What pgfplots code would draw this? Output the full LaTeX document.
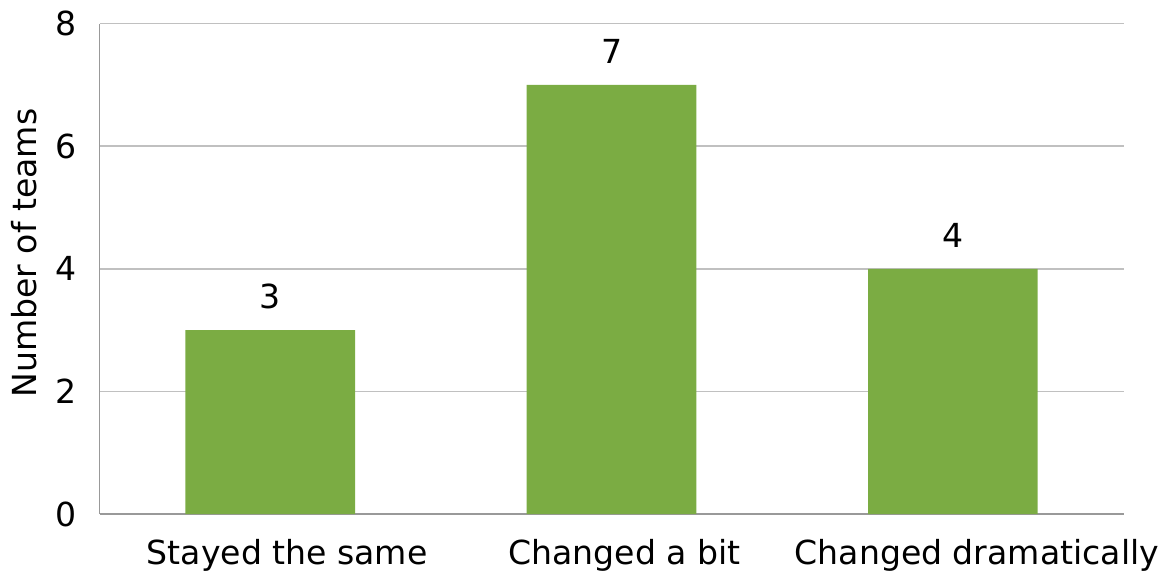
\documentclass[border=0pt]{standalone}
\usepackage{pgfplots}
\pgfplotsset{compat=1.18}
\usepackage{fontspec}
\setmainfont{DejaVu Sans}
\definecolor{barg}{HTML}{7BAC43}
\definecolor{gridg}{HTML}{C0C0C0}
\definecolor{axg}{HTML}{999999}
\newcommand{\fs}{\fontsize{16.6pt}{19.5pt}\selectfont}
\begin{document}
\fs
\begin{tikzpicture}
\begin{axis}[
  scale only axis,
  width=513.5pt, height=246pt,
  xmin=-0.5, xmax=2.5, ymin=0, ymax=8,
  ytick={0,2,4,6,8},
  xtick={0,1,2},
  xticklabels={{\hspace{4pt}Stayed the same},{Changed a bit},{\hspace{11pt}Changed dramatically}},
  /pgf/number format/assume math mode=true,
  tick style={draw=none},
  ymajorgrids, grid style={gridg, line width=0.9pt},
  axis x line*=bottom, axis y line*=left,
  axis line style={axg, line width=0.9pt},
  x axis line style={-}, y axis line style={-},
  ylabel={Number of teams},
  ylabel style={at={(ticklabel cs:0.532)}, yshift=-2pt},
  yticklabel style={xshift=-6pt},
  xticklabel style={yshift=-7pt, xshift=6.5pt},
  ticklabel style={font=\fs},
  label style={font=\fs},
  nodes near coords,
  nodes near coords style={font=\fs, yshift=5pt},
]
\addplot[ybar, bar width=0.497, fill=barg, draw=none] coordinates {(0,3) (1,7) (2,4)};
\end{axis}
\end{tikzpicture}
\end{document}
